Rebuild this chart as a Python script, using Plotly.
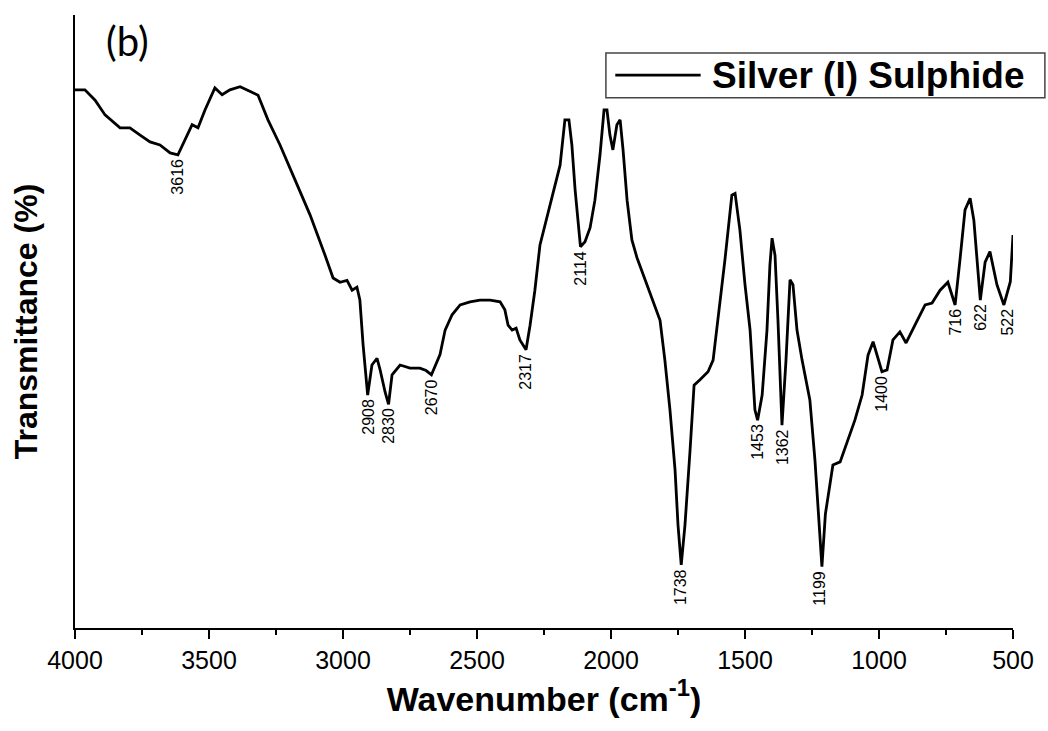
import plotly.graph_objects as go

wavenumber = [4000, 3963, 3925, 3888, 3832, 3795, 3757, 3720, 3683, 3645, 3616, 3590, 3563, 3541,
              3515, 3478, 3451, 3422, 3384, 3340, 3317, 3280, 3235, 3179, 3123, 3067, 3037, 3011,
              2985, 2966, 2948, 2937, 2925, 2908, 2892, 2873, 2862, 2843, 2830, 2817, 2787, 2750,
              2713, 2690, 2670, 2638, 2619, 2593, 2563, 2526, 2489, 2451, 2414, 2396, 2384, 2369,
              2354, 2340, 2317, 2302, 2284, 2265, 2246, 2228, 2209, 2190, 2172, 2157, 2146, 2134,
              2114, 2097, 2078, 2060, 2041, 2026, 2015, 2004, 1993, 1978, 1966, 1955, 1940, 1922,
              1903, 1873, 1836, 1817, 1799, 1780, 1761, 1750, 1738, 1724, 1705, 1690, 1668, 1638,
              1619, 1601, 1575, 1549, 1537, 1519, 1500, 1481, 1463, 1453, 1436, 1418, 1407, 1399,
              1388, 1377, 1362, 1347, 1332, 1321, 1306, 1287, 1258, 1239, 1226, 1213, 1200, 1172,
              1145, 1116, 1090, 1063, 1041, 1022, 1007, 989, 970, 948, 922, 899, 866, 828,
              802, 772, 743, 716, 698, 679, 660, 646, 622, 604, 586, 560, 534, 522, 510, 500]
transmittance = [87.8, 87.8, 86.1, 83.7, 81.6, 81.6, 80.4, 79.3, 78.8, 77.5, 77.2, 79.6, 82.1, 81.6,
                 84.5, 88.1, 87.0, 87.8, 88.3, 87.4, 86.9, 82.9, 78.8, 73.1, 67.4, 60.8, 57.1, 56.4,
                 56.7, 55.1, 55.6, 53.5, 46.2, 38.0, 42.9, 44.0, 42.2, 38.5, 36.5, 41.3, 42.9, 42.4,
                 42.4, 42.0, 41.3, 44.6, 48.6, 51.1, 52.7, 53.2, 53.5, 53.5, 53.2, 51.9, 49.4, 48.6,
                 48.9, 47.0, 45.4, 49.4, 55.1, 62.5, 65.7, 69.0, 72.3, 75.5, 82.9, 82.9, 78.8, 71.5,
                 62.2, 63.0, 65.3, 69.8, 77.2, 84.5, 84.5, 80.4, 78.0, 82.1, 82.9, 78.0, 69.8, 63.3,
                 60.4, 56.8, 52.7, 50.2, 43.7, 35.6, 25.8, 16.8, 10.3, 16.8, 29.0, 39.6, 40.5, 41.8,
                 43.7, 50.2, 60.0, 70.6, 70.9, 64.9, 56.0, 48.6, 35.6, 33.9, 38.0, 48.6, 59.2, 63.6,
                 60.8, 50.2, 33.1, 43.7, 56.8, 56.0, 48.6, 43.7, 37.2, 27.4, 18.6, 10.0, 18.6, 26.6,
                 27.1, 30.7, 33.9, 38.0, 44.5, 46.7, 44.5, 41.8, 42.1, 47.0, 48.3, 46.5, 49.4, 52.7,
                 53.0, 55.1, 56.4, 52.7, 60.0, 68.2, 70.1, 66.5, 53.5, 59.7, 61.4, 56.0, 52.7, 54.5,
                 56.5, 64.1]

peak_labels = ["3616", "2908", "2830", "2670", "2317", "2114", "1738", "1453", "1362", "1199",
               "1400", "716", "622", "522"]
peak_x = [3616, 2908, 2830, 2670, 2317, 2114, 1738, 1453, 1362, 1222, 989, 716, 622, 522]
peak_y = [77.2, 38.0, 36.5, 41.3, 45.4, 62.2, 10.3, 33.9, 33.1, 10.0, 41.8, 52.7, 53.5, 52.7]

series_name = "Silver (I) Sulphide"
arial = "Liberation Sans, Arial, sans-serif"

fig = go.Figure()
fig.add_trace(go.Scatter(x=wavenumber, y=transmittance, mode="lines",
                         line=dict(color="black", width=2.8), name=series_name,
                         showlegend=False))

for lab, px, py in zip(peak_labels, peak_x, peak_y):
    fig.add_annotation(x=px, y=py, text=lab, textangle=-90, showarrow=False,
                       yanchor="top", xanchor="center", yshift=-2,
                       font=dict(family=arial, size=16, color="black"))

fig.add_annotation(xref="paper", yref="paper", x=0.031, y=1.0, text="(b)", showarrow=False,
                   xanchor="left", yanchor="top",
                   font=dict(family="Lato, Carlito, Liberation Sans", size=40, color="black"))

# legend box drawn as a framed key
fig.add_shape(type="rect", xref="paper", yref="paper", x0=0.566, x1=1.034, y0=0.865, y1=0.938,
              line=dict(color="#444", width=1.5), fillcolor="white", layer="above")
fig.add_shape(type="line", xref="paper", yref="paper", x0=0.576, x1=0.667, y0=0.902, y1=0.902,
              line=dict(color="black", width=2.8), layer="above")
fig.add_annotation(xref="paper", yref="paper", x=0.677, y=0.902, text=series_name,
                   showarrow=False, xanchor="left", yanchor="middle",
                   font=dict(family=arial, size=37, color="black", weight="bold"))

fig.update_layout(
    width=1048, height=731,
    margin=dict(l=75, r=35, t=15, b=103),
    paper_bgcolor="white", plot_bgcolor="white",
    showlegend=False,
    xaxis=dict(range=[4000, 500], tickvals=[4000, 3500, 3000, 2500, 2000, 1500, 1000, 500],
               showline=True, linecolor="black", linewidth=1.5, ticks="outside", ticklen=9,
               tickcolor="black", tickwidth=1.5, showgrid=False, zeroline=False,
               minor=dict(dtick=250, ticks="outside", ticklen=5, tickcolor="black", tickwidth=1.5,
                          showgrid=False),
               tickfont=dict(family=arial, size=25, color="black"),
               title=dict(text="Wavenumber (cm<sup>-1</sup>)", standoff=14,
                          font=dict(family=arial, size=34, color="black", weight="bold"))),
    yaxis=dict(range=[0, 100], showline=True, linecolor="black", linewidth=1.5,
               showticklabels=False, ticks="", showgrid=False, zeroline=False,
               title=dict(text="Transmittance (%)", standoff=26,
                          font=dict(family=arial, size=32, color="black", weight="bold"))),
)

fig.write_html("out.html")
